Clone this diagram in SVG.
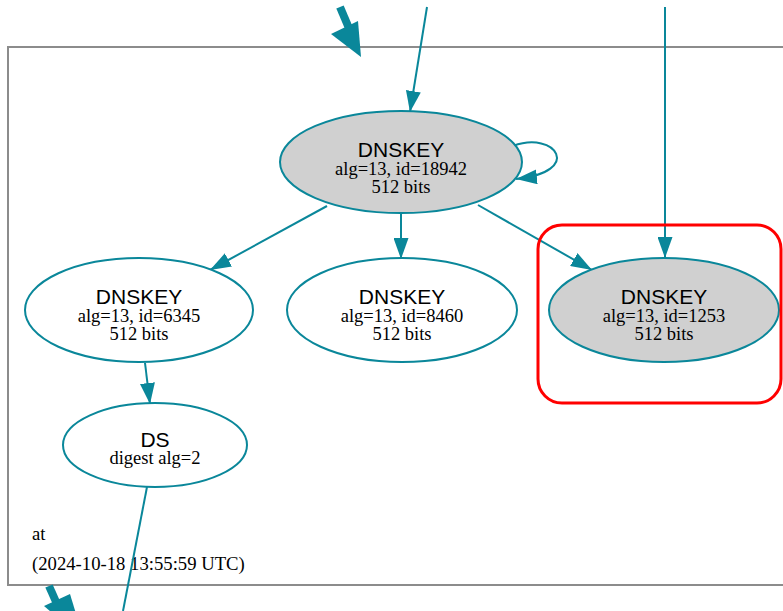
<svg xmlns="http://www.w3.org/2000/svg" width="783" height="611" viewBox="0 0 783 611">
<style>
.bg{fill:#ffffff}
.cluster{fill:none;stroke:#8c8c8c;stroke-width:2}
.node{stroke:#0a879a;stroke-width:2}
.sep{fill:#d0d0d0}
.plain{fill:#ffffff}
.title{font-family:"Liberation Sans",Arial,sans-serif;font-size:21px;fill:#000;text-anchor:middle}
.detail{font-family:"Liberation Serif","Times New Roman",serif;font-size:18.5px;fill:#000;text-anchor:middle}
.label{font-family:"Liberation Serif","Times New Roman",serif;font-size:18.7px;fill:#000}
.edge{fill:none;stroke:#0a879a;stroke-width:2}
.thick{fill:none;stroke:#0a879a;stroke-width:8}
.head{fill:#0a879a}
.hl{fill:none;stroke:#ff0000;stroke-width:3}
</style>
<defs>
<marker id="arr" viewBox="0 0 21 15" refX="21" refY="7.5" markerWidth="21" markerHeight="15" markerUnits="userSpaceOnUse" orient="auto">
<path d="M0,0 L21,7.5 L0,15 Z" fill="#0a879a"/>
</marker>
</defs>
<rect class="bg" x="0" y="0" width="783" height="611"/>
<g id="cluster">
<rect class="cluster" x="8" y="47" width="800" height="538"/>
<text class="label" x="32" y="540">at</text>
<text class="label" x="32" y="570">(2024-10-18 13:55:59 UTC)</text>
</g>
<g id="connectors">
<line class="thick" x1="340" y1="7" x2="351" y2="33"/>
<polygon class="head" points="331,34 358,21 361,57"/>
<line class="edge" x1="427" y1="7" x2="410" y2="112" marker-end="url(#arr)"/>
<line class="edge" x1="665" y1="7" x2="665" y2="258" marker-end="url(#arr)"/>
<path class="edge" d="M513,146 C556,130 584,172 516,179" marker-end="url(#arr)"/>
<line class="edge" x1="327" y1="206" x2="210" y2="270" marker-end="url(#arr)"/>
<line class="edge" x1="401" y1="214" x2="401" y2="259" marker-end="url(#arr)"/>
<line class="edge" x1="478" y1="205" x2="592" y2="270" marker-end="url(#arr)"/>
<line class="edge" x1="145" y1="363" x2="150" y2="404" marker-end="url(#arr)"/>
<line class="edge" x1="147" y1="487" x2="123" y2="611"/>
<line class="thick" x1="49" y1="586" x2="57" y2="604"/>
<polygon class="head" points="44,606 70,594 84,640"/>
</g>
<g id="dnskey-18942">
<ellipse class="node sep" cx="401" cy="162" rx="121" ry="51"/>
<text class="title" x="401" y="157">DNSKEY</text>
<text class="detail" x="401" y="175">alg=13, id=18942</text>
<text class="detail" x="401" y="193">512 bits</text>
</g>
<g id="dnskey-6345">
<ellipse class="node plain" cx="139" cy="310" rx="114" ry="52"/>
<text class="title" x="139" y="304">DNSKEY</text>
<text class="detail" x="139" y="322">alg=13, id=6345</text>
<text class="detail" x="139" y="340">512 bits</text>
</g>
<g id="dnskey-8460">
<ellipse class="node plain" cx="402" cy="310" rx="115" ry="52"/>
<text class="title" x="402" y="304">DNSKEY</text>
<text class="detail" x="402" y="322">alg=13, id=8460</text>
<text class="detail" x="402" y="340">512 bits</text>
</g>
<g id="dnskey-1253">
<ellipse class="node sep" cx="664" cy="310" rx="115" ry="52"/>
<text class="title" x="664" y="304">DNSKEY</text>
<text class="detail" x="664" y="322">alg=13, id=1253</text>
<text class="detail" x="664" y="340">512 bits</text>
<rect class="hl" x="538" y="225" width="243" height="178" rx="24" ry="24"/>
</g>
<g id="ds">
<ellipse class="node plain" cx="155" cy="445" rx="92" ry="42"/>
<text class="title" x="155" y="447">DS</text>
<text class="detail" x="155" y="464">digest alg=2</text>
</g>
</svg>
